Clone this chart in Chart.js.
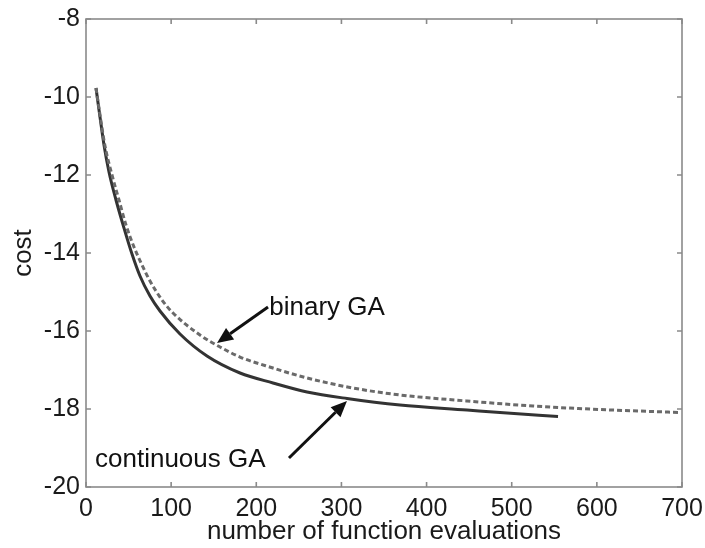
<!DOCTYPE html>
<html><head><meta charset="utf-8">
<script src="https://cdn.jsdelivr.net/npm/chart.js@4/dist/chart.umd.min.js"></script>
<style>html,body{margin:0;padding:0;background:#fff}</style>
</head><body>
<canvas id="c" width="705" height="548"></canvas>
<script>
// ---- data ----
const continuousX = [11.74, 16.44, 21.14, 27.01, 35.23, 44.63, 54.03, 63.42, 75.17, 86.91, 110.4, 142.1, 180.9, 219.6, 259.6, 306.6, 368.8, 447.5, 486.2, 554.4];
const continuousY = [-9.769, -10.513, -11.231, -11.923, -12.641, -13.359, -14.026, -14.59, -15.103, -15.487, -16.077, -16.641, -17.077, -17.333, -17.564, -17.731, -17.897, -18.026, -18.09, -18.192];
const binaryX = [11.74, 16.44, 22.32, 30.54, 38.76, 46.98, 56.38, 65.77, 75.17, 89.26, 102.2, 133.9, 157.4, 180.9, 219.6, 259.6, 313.6, 368.8, 447.5, 525.0, 603.7, 697.7];
const binaryY = [-9.769, -10.462, -11.256, -12.0, -12.641, -13.282, -13.846, -14.308, -14.718, -15.205, -15.538, -16.103, -16.41, -16.667, -16.949, -17.205, -17.462, -17.641, -17.795, -17.923, -18.013, -18.09];
const xTicks = [0, 100, 200, 300, 400, 500, 600, 700];
const yTicks = [-20, -18, -16, -14, -12, -10, -8];
const xTitle = 'number of function evaluations';
const yTitle = 'cost';
// annotations (data coordinates; text anchored at left/baseline)
const labelTexts = ['binary GA', 'continuous GA'];
const labelX = [215.2, 10.57];
const labelY = [-15.59, -19.487];
const arrowFromX = [213.8, 238.4];
const arrowFromY = [-15.385, -19.256];
const arrowToX = [153.9, 306.5];
const arrowToY = [-16.308, -17.795];

const FONT = '"Liberation Sans", Arial, Helvetica, sans-serif';
const toPts = (xs, ys) => xs.map((x, i) => ({x: x, y: ys[i]}));

const boxPlugin = {
  id: 'boxTicks',
  afterDatasetsDraw(chart) {
    const ctx = chart.ctx, a = chart.chartArea;
    const xs = chart.scales.x, ys = chart.scales.y;
    ctx.save();
    ctx.strokeStyle = '#8a8a8a';
    ctx.lineWidth = 1.6;
    ctx.strokeRect(a.left, a.top, a.right - a.left, a.bottom - a.top);
    const L = 5;
    ctx.beginPath();
    xTicks.forEach(v => {
      const px = xs.getPixelForValue(v);
      ctx.moveTo(px, a.bottom); ctx.lineTo(px, a.bottom - L);
      ctx.moveTo(px, a.top); ctx.lineTo(px, a.top + L);
    });
    yTicks.forEach(v => {
      const py = ys.getPixelForValue(v);
      ctx.moveTo(a.left, py); ctx.lineTo(a.left + L, py);
      ctx.moveTo(a.right, py); ctx.lineTo(a.right - L, py);
    });
    ctx.stroke();
    // annotations
    ctx.fillStyle = '#111';
    ctx.font = '26px ' + FONT;
    ctx.textBaseline = 'alphabetic';
    ctx.textAlign = 'left';
    labelTexts.forEach((t, i) => {
      ctx.fillText(t, xs.getPixelForValue(labelX[i]), ys.getPixelForValue(labelY[i]));
    });
    ctx.strokeStyle = '#111';
    ctx.lineWidth = 3;
    arrowFromX.forEach((fx, i) => {
      const x1 = xs.getPixelForValue(fx), y1 = ys.getPixelForValue(arrowFromY[i]);
      const x2 = xs.getPixelForValue(arrowToX[i]), y2 = ys.getPixelForValue(arrowToY[i]);
      const ang = Math.atan2(y2 - y1, x2 - x1);
      const hl = 16, hw = 7;
      const bx = x2 - hl * Math.cos(ang), by = y2 - hl * Math.sin(ang);
      ctx.beginPath();
      ctx.moveTo(x1, y1); ctx.lineTo(bx, by); ctx.stroke();
      ctx.beginPath();
      ctx.moveTo(x2, y2);
      ctx.lineTo(bx + hw * Math.sin(ang), by - hw * Math.cos(ang));
      ctx.lineTo(bx - hw * Math.sin(ang), by + hw * Math.cos(ang));
      ctx.closePath();
      ctx.fill();
    });
    ctx.restore();
  }
};

new Chart(document.getElementById('c'), {
  type: 'scatter',
  data: {
    datasets: [
      {
        label: 'binary GA',
        data: toPts(binaryX, binaryY),
        showLine: true,
        borderColor: '#6a6a6a',
        borderWidth: 3,
        borderDash: [5, 3],
        pointRadius: 0,
        cubicInterpolationMode: 'monotone',
        fill: false
      },
      {
        label: 'continuous GA',
        data: toPts(continuousX, continuousY),
        showLine: true,
        borderColor: '#333333',
        borderWidth: 3,
        pointRadius: 0,
        cubicInterpolationMode: 'monotone',
        fill: false
      }
    ]
  },
  options: {
    responsive: false,
    animation: false,
    layout: {padding: {top: 19, right: 23, left: 0, bottom: 0}},
    plugins: {legend: {display: false}, tooltip: {enabled: false}},
    scales: {
      x: {
        type: 'linear', min: 0, max: 700,
        afterBuildTicks: s => { s.ticks = xTicks.map(v => ({value: v})); },
        afterFit: s => { s.height = 61; s.paddingLeft = 0; s.paddingRight = 0; },
        grid: {display: false, drawTicks: false},
        border: {display: false},
        ticks: {color: '#1a1a1a', font: {family: FONT, size: 25}, padding: 7, maxRotation: 0, autoSkip: false},
        title: {display: true, text: xTitle, color: '#1a1a1a', font: {family: FONT, size: 26}, padding: {top: 0, bottom: 1}}
      },
      y: {
        type: 'linear', min: -20, max: -8,
        afterBuildTicks: s => { s.ticks = yTicks.map(v => ({value: v})); },
        afterFit: s => { s.width = 86; s.paddingTop = 0; s.paddingBottom = 0; },
        grid: {display: false, drawTicks: false},
        border: {display: false},
        ticks: {color: '#1a1a1a', font: {family: FONT, size: 25}, padding: 6, autoSkip: false},
        title: {display: true, text: yTitle, color: '#1a1a1a', font: {family: FONT, size: 26}, padding: {top: 8, bottom: 0}}
      }
    }
  },
  plugins: [boxPlugin]
});
</script>
</body></html>
